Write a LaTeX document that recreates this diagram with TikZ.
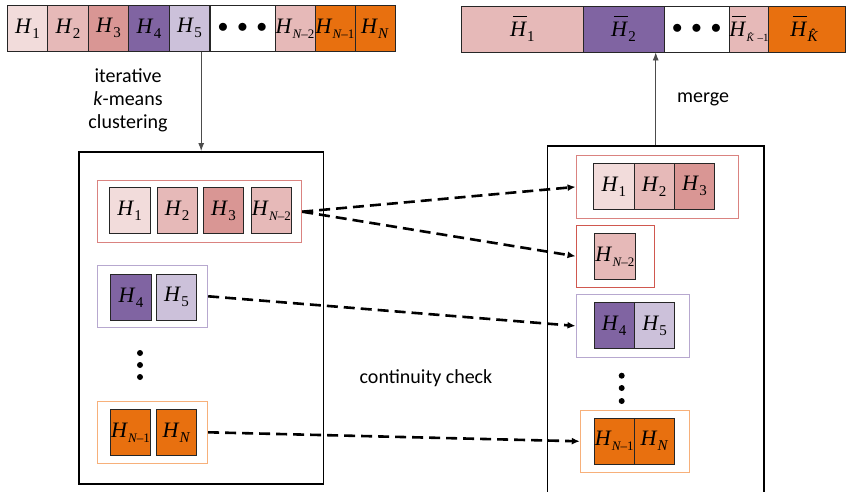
\documentclass[tikz,border=0pt]{standalone}
\usepackage{fontspec}
\setmainfont{Carlito}
\newfontfamily\tms{Liberation Serif}
\usetikzlibrary{arrows.meta}
\definecolor{pkA}{HTML}{F2DCDB}
\definecolor{pkB}{HTML}{E6B9B8}
\definecolor{pkC}{HTML}{D99694}
\definecolor{vioA}{HTML}{8064A2}
\definecolor{vioB}{HTML}{CCC1DA}
\definecolor{orA}{HTML}{E8700F}
\definecolor{redG}{HTML}{DA8380}
\definecolor{redH}{HTML}{D0584F}
\definecolor{vioG}{HTML}{B7A8CF}
\definecolor{orG}{HTML}{F7B07A}
\newcommand{\HH}[2][15]{{\tms\itshape H}\kern1.2pt\raisebox{-5pt}{\tms\fontsize{#1}{#1}\selectfont #2}}
\newcommand{\HB}[2][15]{\makebox[0pt][l]{\hspace{3pt}\rule[20pt]{14pt}{0.9pt}}{\tms\itshape H}\kern1.2pt\raisebox{-5pt}{\tms\fontsize{#1}{#1}\selectfont #2}}
\newcommand{\NN}{\textit{N}}
\newcommand{\Kh}{\textit{K\char"0302}}
\newcommand{\hdots}{\mbox{$\bullet$}\hspace{9pt}\mbox{$\bullet$}\hspace{9pt}\mbox{$\bullet$}}
\tikzset{
  cell/.style={draw=black!85, line width=0.8pt, minimum width=40.5pt, minimum height=46pt, inner sep=0pt, font=\fontsize{22}{22}\selectfont},
  grp/.style={draw=#1, line width=1pt, inner sep=0pt},
  bigbox/.style={draw=black, line width=1.5pt, inner sep=0pt},
  dsh/.style={-{Latex[length=8pt,width=7pt]}, line width=2.6pt, dash pattern=on 11pt off 6pt},
  arr/.style={-{Latex[length=8pt,width=6pt]}, line width=0.8pt, draw=black!70},
  lbl/.style={font=\fontsize{20}{23}\selectfont, align=center}
}
\begin{document}
\begin{tikzpicture}[x=1pt,y=-1pt]
\useasboundingbox (0,0) rectangle (847,491);
\clip (0,0) rectangle (847,491);
% input sequence
\node[cell,fill=pkA] (t1) at (27.5,28.3) {\HH{1}};
\node[cell,fill=pkB] (t2) at (68,28.3) {\HH{2}};
\node[cell,fill=pkC] (t3) at (108.5,28.3) {\HH{3}};
\node[cell,fill=vioA] (t4) at (149,28.3) {\HH{4}};
\node[cell,fill=vioB] (t5) at (189.5,28.3) {\HH{5}};
\node[cell,fill=white,minimum width=65pt] (tD) at (242.5,28.3) {\hdots};
\node[cell,fill=pkB,minimum width=40pt] (tN2) at (295,28.3) {\HH[13]{\NN\kern-0.5pt\textendash2}};
\node[cell,fill=orA,minimum width=40pt] (tN1) at (335,28.3) {\HH[13]{\NN\kern-0.5pt\textendash1}};
\node[cell,fill=orA,minimum width=40pt] (tN) at (375,28.3) {\HH{\NN}};
% merged sequence
\node[cell,fill=pkB,minimum width=121.3pt] (b1) at (522.3,29) {\HB{1}};
\node[cell,fill=vioA,minimum width=81pt] (b2) at (623.5,29) {\HB{2}};
\node[cell,fill=white,minimum width=65.3pt] (bD) at (696.6,29) {\hdots};
\node[cell,fill=pkB,minimum width=39.4pt] (bK1) at (749,29) {\HB[11]{\Kh\kern-0.5pt\textendash1}};
\node[cell,fill=orA,minimum width=76.3pt] (bK) at (806.8,29) {\HB{\Kh}};
% clustering box
\node[bigbox,minimum width=244.3pt,minimum height=332.3pt] (boxL) at (201.2,317.9) {};
\node[grp=redG,minimum width=204pt,minimum height=62pt] (gL1) at (199.7,211.7) {};
\node[cell,fill=pkA] (l1) at (129.7,210.7) {\HH{1}};
\node[cell,fill=pkB] (l2) at (177.2,210.7) {\HH{2}};
\node[cell,fill=pkC] (l3) at (223.5,210.7) {\HH{3}};
\node[cell,fill=pkB] (lN2) at (271.4,210.7) {\HH[13]{\NN\kern-0.5pt\textendash2}};
\node[grp=vioG,minimum width=110pt,minimum height=62pt] (gL2) at (152.7,296.3) {};
\node[cell,fill=vioA] (l4) at (131,297.3) {\HH{4}};
\node[cell,fill=vioB] (l5) at (176.5,297.3) {\HH{5}};
\fill (140,353) circle (3pt) (140,365) circle (3pt) (140,377) circle (3pt);
\node[grp=orG,minimum width=110pt,minimum height=62pt] (gL3) at (152.7,432.3) {};
\node[cell,fill=orA] (lN1) at (130.5,432.3) {\HH[13]{\NN\kern-0.5pt\textendash1}};
\node[cell,fill=orA] (lN) at (176.5,432.3) {\HH{\NN}};
% checked box
\node[bigbox,minimum width=216.7pt,minimum height=354.3pt] (boxR) at (655.7,322.9) {};
\node[grp=redG,minimum width=162.3pt,minimum height=62.3pt] (gR1) at (657.2,186.9) {};
\node[cell,fill=pkA] (r1) at (613.9,186.3) {\HH{1}};
\node[cell,fill=pkB] (r2) at (654.2,186.3) {\HH{2}};
\node[cell,fill=pkC] (r3) at (694.5,186.3) {\HH{3}};
\node[grp=redH,minimum width=78.7pt,minimum height=61.7pt] (gR2) at (615.4,256.2) {};
\node[cell,fill=pkB] (rN2) at (614.9,256.3) {\HH[13]{\NN\kern-0.5pt\textendash2}};
\node[grp=vioG,minimum width=113pt,minimum height=62.3pt] (gR3) at (632.5,325.9) {};
\node[cell,fill=vioA] (r4) at (614.2,325.5) {\HH{4}};
\node[cell,fill=vioB] (r5) at (654.6,325.5) {\HH{5}};
\fill (621.7,375.7) circle (3pt) (621.7,388) circle (3pt) (621.7,401) circle (3pt);
\node[grp=orG,minimum width=109pt,minimum height=62pt] (gR4) at (634.8,441.3) {};
\node[cell,fill=orA] (rN1) at (614.2,441) {\HH[13]{\NN\kern-0.5pt\textendash1}};
\node[cell,fill=orA] (rN) at (654.5,441) {\HH{\NN}};
% labels and arrows
\node[lbl] (itk) at (128,100) {iterative\\\textit{k}-means\\clustering};
\node[lbl] (mrg) at (703,99) {merge};
\node[lbl] (cc) at (426,378) {continuity check};
\draw[arr] (t5.south -| boxL.north) -- (boxL.north);
\draw[arr] (boxR.north) -- (b2.south -| boxR.north);
\draw[dsh] (gL1.east) -- (gR1.west);
\draw[dsh] (gL1.east) -- (gR2.west);
\draw[dsh] (gL2.east) -- (gR3.west);
\draw[dsh] (gL3.east) -- (gR4.west);
\end{tikzpicture}
\end{document}
